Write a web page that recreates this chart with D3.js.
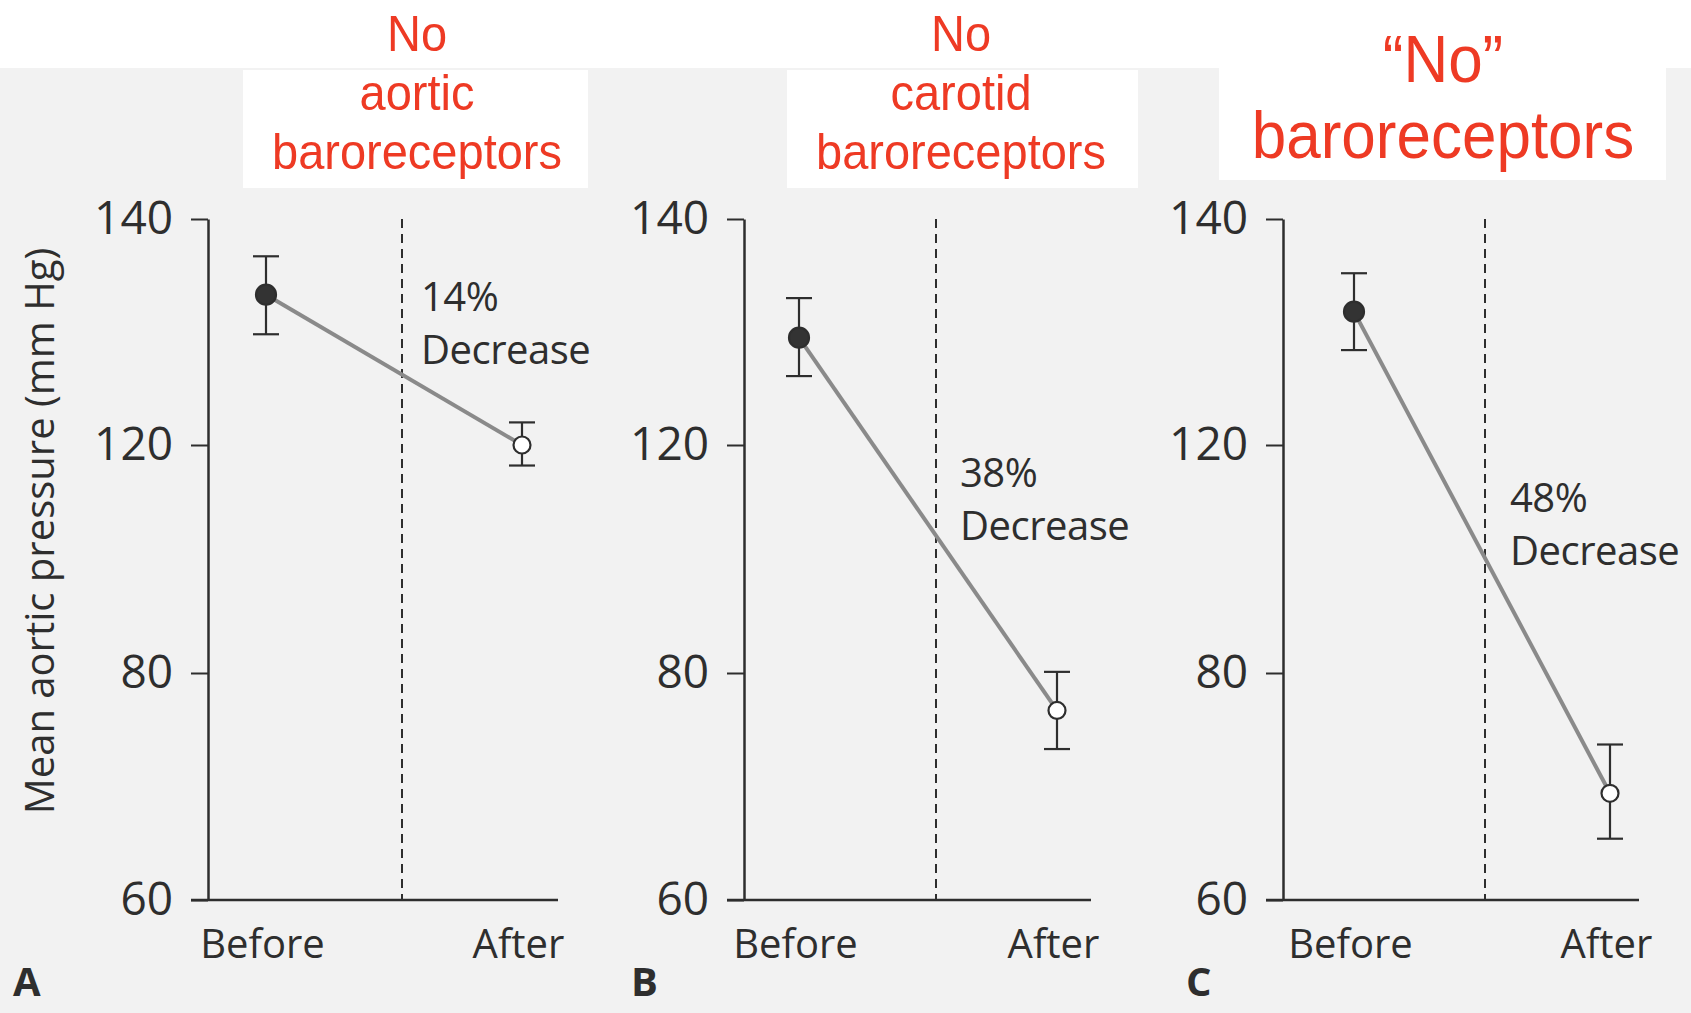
<!DOCTYPE html>
<html>
<head>
<meta charset="utf-8">
<script src="https://cdn.jsdelivr.net/npm/d3@7"></script>
<style>
    html, body { margin: 0; padding: 0; background: #f2f2f2; }
    svg { display: block; }
</style>
</head>
<body>
<div id="chart"></div>
<script>
const panels = ["A", "B", "C"]
const conditions = ["Before", "After"]
const yTicks = [60, 80, 120, 140]
// mean aortic pressure (mm Hg) before / after, per panel
const meanPressure = [[133.3, 120.0], [129.5, 76.7], [131.8, 69.4]]
const errUpper = [[136.7, 122.0], [133.0, 80.2], [135.2, 73.7]]
const errLower = [[129.8, 116.4], [126.1, 73.3], [128.4, 65.4]]
const decreaseLabels = ["14%", "38%", "48%"]
const titleLines = [
    ["No", "aortic", "baroreceptors"],
    ["No", "carotid", "baroreceptors"],
    ["\u201cNo\u201d", "baroreceptors"]
]

const width = 1691
const height = 1013
const ink = "#2e2e2e"
const red = "#ee3a24"
const bookFont = "'Open Sans', sans-serif"

// layout of each panel, offsets from its y axis
const layout = [
    { left: 208, before: 58, after: 314, dash: 194, end: 350, note: [421, 311], title: 417, letter: 13 },
    { left: 744, before: 55, after: 313, dash: 192, end: 347, note: [960, 487], title: 961, letter: 631 },
    { left: 1283, before: 71, after: 327, dash: 202, end: 356, note: [1510, 512], title: 1443, letter: 1186 }
]
const titleBoxes = [[243, 70, 345, 118], [787, 70, 351, 118], [1219, 64, 447, 116]]

const svg = d3.select("#chart")
    .append("svg")
    .attr("width", width)
    .attr("height", height)

svg.append("rect")
    .attr("width", width)
    .attr("height", height)
    .attr("fill", "#f2f2f2")
svg.append("rect")
    .attr("width", width)
    .attr("height", 68)
    .attr("fill", "#fff")
svg.append("g")
    .selectAll("rect")
    .data(titleBoxes)
    .join("rect")
    .attr("x", d => d[0])
    .attr("y", d => d[1])
    .attr("width", d => d[2])
    .attr("height", d => d[3])
    .attr("fill", "#fff")

const y = d3.scaleLinear()
    .domain(yTicks)
    .range([900, 673, 445, 219])

panels.forEach((p, i) => {
    const L = layout[i]
    const x = d3.scalePoint()
        .domain(conditions)
        .range([L.left + L.before, L.left + L.after])
    const g = svg.append("g")

    // y axis
    const yAxis = g.append("g")
        .attr("transform", `translate(${L.left},0)`)
        .call(d3.axisLeft(y).tickValues(yTicks).tickSize(17).tickSizeOuter(0).tickPadding(18))
    yAxis.select(".domain").attr("stroke", ink).attr("stroke-width", 2.5)
    yAxis.selectAll(".tick line").attr("stroke", ink).attr("stroke-width", 2)
    yAxis.selectAll(".tick text")
        .attr("fill", ink)
        .attr("font-family", bookFont)
        .attr("font-size", 46)

    // x axis baseline
    g.append("line")
        .attr("x1", L.left - 17)
        .attr("x2", L.left + L.end)
        .attr("y1", y(60))
        .attr("y2", y(60))
        .attr("stroke", ink)
        .attr("stroke-width", 2.5)

    const xAxis = g.append("g")
        .attr("transform", `translate(0,${y(60)})`)
        .call(d3.axisBottom(x).tickSize(0).tickPadding(30))
    xAxis.select(".domain").remove()
    xAxis.selectAll(".tick text")
        .attr("fill", ink)
        .attr("font-family", bookFont)
        .attr("font-size", 40)
        .attr("dx", -4)

    // dashed divider
    g.append("line")
        .attr("x1", L.left + L.dash)
        .attr("x2", L.left + L.dash)
        .attr("y1", y(140))
        .attr("y2", y(60))
        .attr("stroke", ink)
        .attr("stroke-width", 2)
        .attr("stroke-dasharray", "9,6")

    const pts = conditions.map((c, j) => ({
        c: c,
        v: meanPressure[i][j],
        hi: errUpper[i][j],
        lo: errLower[i][j]
    }))

    g.append("path")
        .datum(pts)
        .attr("fill", "none")
        .attr("stroke", "#8a8a8a")
        .attr("stroke-width", 4)
        .attr("d", d3.line().x(d => x(d.c)).y(d => y(d.v)))

    const err = g.append("g")
        .attr("stroke", ink)
        .attr("stroke-width", 2.2)
        .selectAll("g")
        .data(pts)
        .join("g")
    err.append("line")
        .attr("x1", d => x(d.c))
        .attr("x2", d => x(d.c))
        .attr("y1", d => y(d.hi))
        .attr("y2", d => y(d.lo))
    err.append("line")
        .attr("x1", d => x(d.c) - 13)
        .attr("x2", d => x(d.c) + 13)
        .attr("y1", d => y(d.hi))
        .attr("y2", d => y(d.hi))
    err.append("line")
        .attr("x1", d => x(d.c) - 13)
        .attr("x2", d => x(d.c) + 13)
        .attr("y1", d => y(d.lo))
        .attr("y2", d => y(d.lo))

    g.append("g")
        .selectAll("circle")
        .data(pts)
        .join("circle")
        .attr("cx", d => x(d.c))
        .attr("cy", d => y(d.v))
        .attr("r", (d, j) => j === 0 ? 10 : 8.5)
        .attr("fill", (d, j) => j === 0 ? "#333" : "#fff")
        .attr("stroke", ink)
        .attr("stroke-width", 2.2)

    // percent decrease note
    const note = g.append("text")
        .attr("fill", ink)
        .attr("font-family", bookFont)
        .attr("font-size", 40)
        .attr("letter-spacing", -0.5)
    note.append("tspan")
        .attr("x", L.note[0])
        .attr("y", L.note[1])
        .text(decreaseLabels[i])
    note.append("tspan")
        .attr("x", L.note[0])
        .attr("y", L.note[1] + 53)
        .text("Decrease")

    // red title
    const lines = titleLines[i]
    const big = lines.length === 2
    g.append("g")
        .selectAll("text")
        .data(lines)
        .join("text")
        .attr("text-anchor", "middle")
        .attr("fill", red)
        .attr("font-family", "'Liberation Sans', Arial, sans-serif")
        .attr("font-size", big ? 62 : 47)
        .attr("transform", (d, k) => {
            const by = big ? 82 + k * 76 : 51 + k * 59
            return `translate(${L.title},${by}) scale(1,1.08)`
        })
        .text(d => d)

    // panel letter
    g.append("text")
        .attr("x", L.letter)
        .attr("y", 996)
        .attr("fill", ink)
        .attr("font-family", bookFont)
        .attr("font-weight", 700)
        .attr("font-size", 40)
        .text(p)
})

svg.append("text")
    .attr("transform", `translate(40,531) rotate(-90)`)
    .attr("text-anchor", "middle")
    .attr("dy", "0.35em")
    .attr("fill", ink)
    .attr("font-family", bookFont)
    .attr("font-size", 40)
    .text("Mean aortic pressure (mm Hg)")
</script>
</body>
</html>
